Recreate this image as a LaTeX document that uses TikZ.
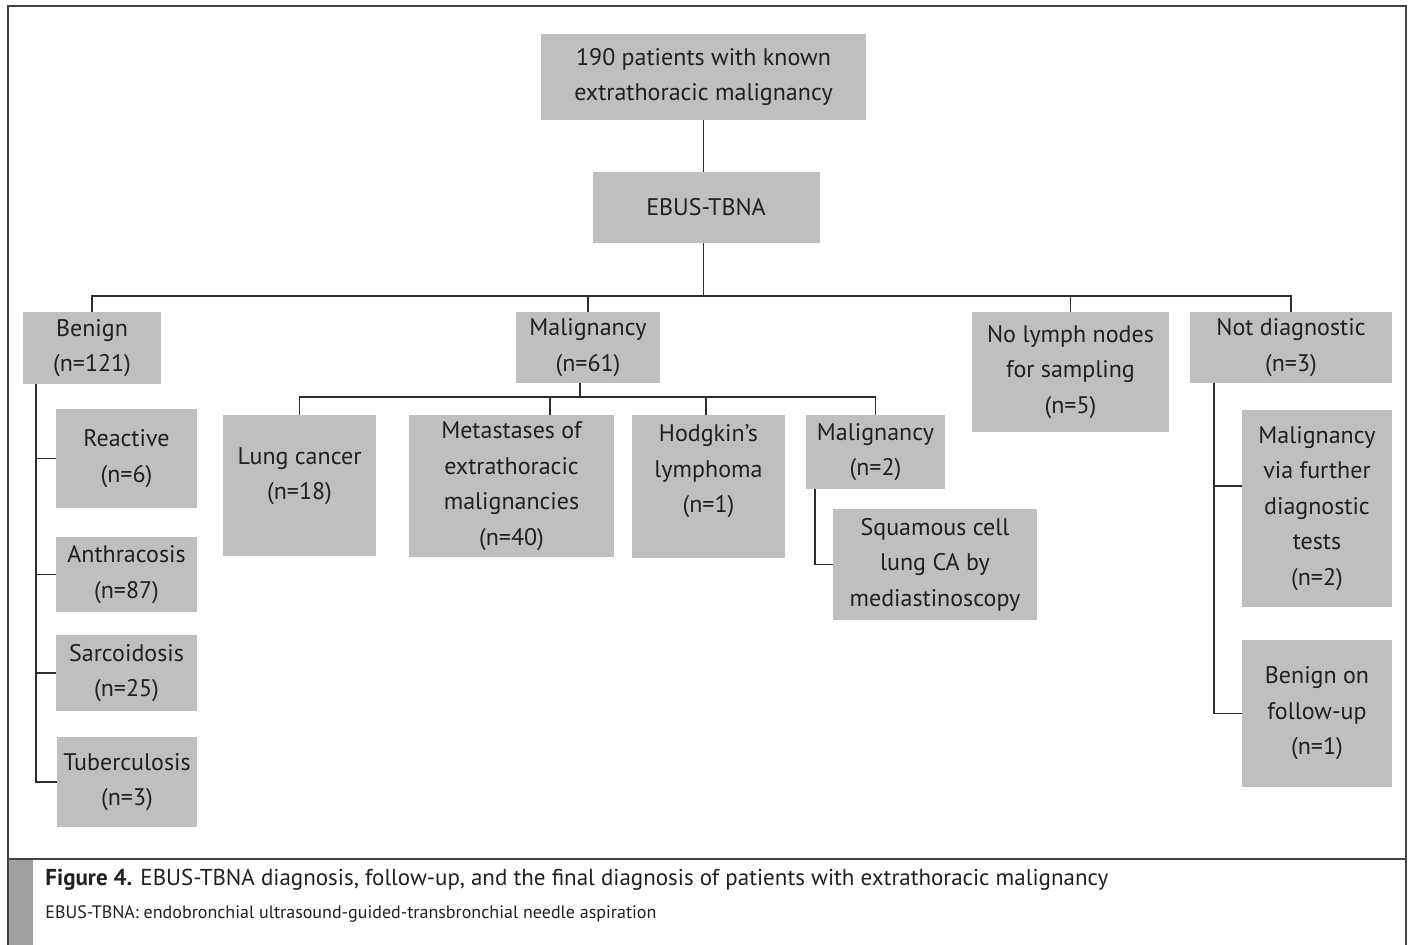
\documentclass[tikz,border=0pt]{standalone}
\usepackage{fontspec}
\setmainfont{PT Sans}
\definecolor{boxgray}{RGB}{190,191,193}
\definecolor{bargray}{RGB}{160,161,163}
\definecolor{linegray}{RGB}{45,45,45}
\definecolor{textblack}{RGB}{35,31,32}
\usetikzlibrary{positioning, calc}

\begin{document}
\begin{tikzpicture}[x=0.5pt, y=-0.5pt,
  box/.style 2 args={fill=boxgray, inner sep=0pt, align=center, text=textblack,
    minimum width=#1pt, minimum height=#2pt, font=\fontsize{12}{17.75}\selectfont},
  conn/.style={draw=linegray, line width=0.75pt},
  frame/.style={draw=linegray!90, line width=0.8pt}]
  \useasboundingbox (0,0) rectangle (1410,945);

  % Frame and caption bar
  \fill[bargray] (8,859) rectangle (33,945);
  \draw[frame] (8,945) -- (8,6) -- (1406,6) -- (1406,945);
  \draw[frame] (8,859) -- (1406,859);

  % Top levels
  \node[box={162.5}{43}] (top) at (703.5,77) {190 patients with known\\extrathoracic malignancy};
  \node[box={113.5}{35.5}] (ebus) at (706,207.5) {EBUS-TBNA};

  % EBUS-TBNA results
  \node[box={69}{36}] (benign) at (92,348) {Benign\\(n=121)};
  \node[box={72}{35.5}] (mal) at (588,347.5) {Malignancy\\(n=61)};
  \node[box={98.5}{60}] (nolymph) at (1070.5,372) {No lymph nodes\\for sampling\\(n=5)};
  \node[box={101}{35.5}] (notdiag) at (1291,347.5) {Not diagnostic\\(n=3)};

  % Benign branch
  \node[box={70.5}{49.5}] (reactive) at (126.5,458.5) {Reactive\\(n=6)};
  \node[box={70.5}{37.5}] (anthra) at (126.5,574.5) {Anthracosis\\(n=87)};
  \node[box={70.5}{38}] (sarco) at (126.5,673) {Sarcoidosis\\(n=25)};
  \node[box={70}{45}] (tuber) at (127,782) {Tuberculosis\\(n=3)};

  % Malignancy branch
  \node[box={76.5}{70.5}] (lung) at (299.5,485.5) {Lung cancer\\(n=18)\\[-6pt]\mbox{}};
  \node[box={102.5}{71}] (meta) at (511.5,486) {Metastases of\\extrathoracic\\malignancies\\(n=40)};
  \node[box={76.5}{71.5}] (hodg) at (708.5,486.5) {Hodgkin's\\lymphoma\\(n=1)\\\mbox{}};
  \node[box={69.5}{37}] (mal2) at (875.5,452) {Malignancy\\(n=2)};
  \node[box={102}{55.5}] (squam) at (935,564.5) {Squamous cell\\lung CA by\\mediastinoscopy};

  % Not diagnostic branch
  \node[box={75}{98.5}] (furth) at (1317,508.5) {Malignancy\\via further\\diagnostic\\tests\\(n=2)};
  \node[box={75}{73.5}] (benfu) at (1317,713.5) {Benign on\\follow-up\\(n=1)};

  % Junction points
  \coordinate (bus) at (703.5,296);
  \coordinate (malbus) at (580,397);
  \coordinate (metadrop) at (550,397);
  \coordinate (bentrunk) at (36,384);
  \coordinate (m2trunk) at (815,489);
  \coordinate (ndtrunk) at (1214,383);
  \coordinate (furthbr) at (1214,486);

  % Connectors
  \draw[conn] (top.south) -- (top.south |- ebus.north);
  \draw[conn] (top.south |- ebus.south) -- (bus);
  \draw[conn] (benign.north) -- (benign.north |- bus) -| (notdiag.north);
  \draw[conn] (mal.north) -- (mal.north |- bus);
  \draw[conn] (nolymph.north) -- (nolymph.north |- bus);

  \draw[conn] (mal.south -| malbus) -- (malbus);
  \draw[conn] (lung.north) -- (lung.north |- malbus) -| (mal2.north);
  \draw[conn] (metadrop) -- (metadrop |- meta.north);
  \draw[conn] (hodg.north -| 706,0) -- (malbus -| 706,0);
  \draw[conn] (m2trunk) |- (squam.west);

  \draw[conn] (benign.south -| bentrunk) |- (tuber.west);
  \draw[conn] (bentrunk |- reactive.west) -- (reactive.west);
  \draw[conn] (bentrunk |- anthra.west) -- (anthra.west);
  \draw[conn] (bentrunk |- sarco.west) -- (sarco.west);

  \draw[conn] (ndtrunk) |- (benfu.west);
  \draw[conn] (furthbr) -- (furthbr -| furth.west);

  % Caption
  \node[anchor=west, inner sep=0pt, text=textblack, font=\fontsize{11.5}{14}\selectfont] (cap) at (45,880)
    {\textbf{Figure 4.} EBUS-TBNA diagnosis, follow-up, and the final diagnosis of patients with extrathoracic malignancy};
  \node[anchor=west, inner sep=0pt, text=textblack, font=\fontsize{9}{11}\selectfont] (capnote) at (45,914)
    {EBUS-TBNA: endobronchial ultrasound-guided-transbronchial needle aspiration};
\end{tikzpicture}
\end{document}
